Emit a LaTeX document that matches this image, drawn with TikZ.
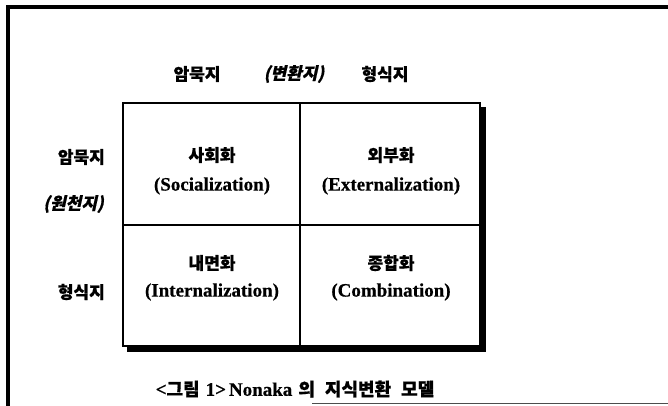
\documentclass[tikz,border=0pt]{standalone}
\usepackage{fontspec}
\setmainfont{Liberation Serif}
\newfontfamily\kr{Noto Sans CJK KR}[BoldFeatures={FakeBold=0.6}]
\newfontfamily\krsl{Noto Sans CJK KR}[FakeSlant=0.22, BoldFeatures={FakeSlant=0.22, FakeBold=0.6}]
\newfontfamily\lat{Liberation Serif}[BoldFeatures={FakeBold=0.5}]
\begin{document}
\begin{tikzpicture}[x=1pt,y=-1pt,
  kor/.style={font=\kr\bfseries\fontsize{17}{19}\selectfont, inner sep=0pt},
  korsl/.style={font=\krsl\bfseries\fontsize{17}{19}\selectfont, inner sep=0pt},
  eng/.style={font=\lat\bfseries\fontsize{19}{21}\selectfont, inner sep=0pt},
  gridline/.style={line width=2.3pt},
  shadowline/.style={line width=5.5pt}]
\useasboundingbox (0,0) rectangle (668,405);
% outer frame (partial, as in the scan)
\coordinate (fTR) at (672,7);
\coordinate (fTL) at (8,7);
\coordinate (fBL) at (8,410);
\draw[line width=3.2pt] (fTR) -- (fTL) -- (fBL);
\coordinate (bA) at (312,403);
\coordinate (bB) at (672,403);
\draw[line width=1pt, black!70] (bA) -- (bB);
% grid
\coordinate (gTL) at (123,103);
\coordinate (gBR) at (480,346);
\coordinate (gTM) at (300,103);
\coordinate (gBM) at (300,346);
\coordinate (gML) at (123,225);
\coordinate (gMR) at (480,225);
\draw[gridline] (gTL) rectangle (gBR);
\draw[gridline] (gTM) -- (gBM);
\draw[gridline] (gML) -- (gMR);
\coordinate (sB) at (127,349);
\coordinate (sC) at (483,349);
\coordinate (sT) at (483,107);
\draw[shadowline] (sB) -- (sC) -- (sT);
% top labels
\node[kor] (tA) at (197,74) {암묵지};
\node[korsl] (tB) at (294,74) {(변환지)};
\node[kor] (tC) at (385,74) {형식지};
% left labels
\node[kor, anchor=east] (lA) at (105,157) {암묵지};
\node[korsl, anchor=east] (lB) at (104,204) {(원천지)};
\node[kor, anchor=east] (lC) at (105,292) {형식지};
% cells
\node[kor] (c1k) at (212,155) {사회화};
\node[eng] (c1e) at (212,186) {(Socialization)};
\node[kor] (c2k) at (391,155) {외부화};
\node[eng] (c2e) at (391,186) {(Externalization)};
\node[kor] (c3k) at (212,263) {내면화};
\node[eng] (c3e) at (212,292) {(Internalization)};
\node[kor] (c4k) at (391,263) {종합화};
\node[eng] (c4e) at (391,292) {(Combination)};
% caption
\node[inner sep=0pt] (cap) at (295,389) {{\lat\bfseries\fontsize{19}{21}\selectfont <}{\kr\bfseries\fontsize{18}{20}\selectfont 그림}\hspace{6pt}{\lat\bfseries\fontsize{19}{21}\selectfont 1>\hspace{3pt}Nonaka}\hspace{6pt}{\kr\bfseries\fontsize{18}{20}\selectfont 의\hspace{10pt}지식변환\hspace{10pt}모델}};
\end{tikzpicture}
\end{document}
